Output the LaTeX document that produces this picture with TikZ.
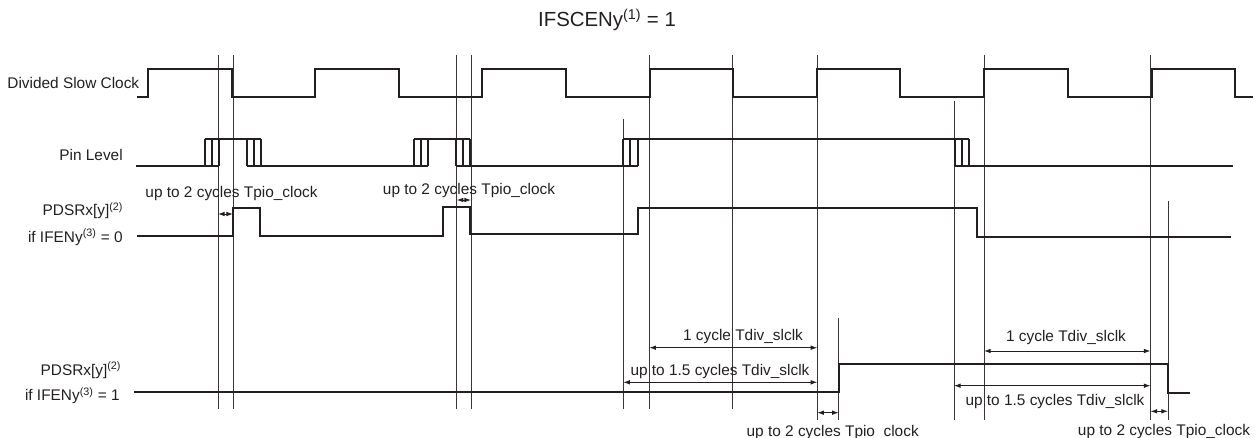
\documentclass[tikz,border=0pt]{standalone}
\usepackage{fontspec}
\setmainfont{Liberation Sans}
\usetikzlibrary{arrows.meta}
\definecolor{ink}{HTML}{231F20}
\tikzset{
  wave/.style={ink, line width=1.5pt, line join=miter},
  pinwave/.style={ink, line width=1.3pt},
  marker/.style={ink!90, line width=0.75pt},
  span/.style={ink, line width=0.7pt, {Latex[length=5pt,width=3.5pt]}-{Latex[length=5pt,width=3.5pt]}},
  lbl/.style={ink, font=\fontsize{11.55}{13}\selectfont, inner sep=0pt, anchor=base},
  sig/.style={lbl, anchor=base east}
}
\begin{document}
\begin{tikzpicture}[x=0.75pt, y=-0.75pt]
      \useasboundingbox (0,0) rectangle (1257,438);
      % vertical markers
      \foreach \x/\top/\bot in {218/55/409, 233/55/409, 456.7/55/409, 471/55/409, 623.3/119/409,
          649.3/55/409, 732.7/55/409, 817.3/55/420, 838.7/318/420, 954/101/420, 984/55/420,
          1150.5/55/420, 1168/201/420}
        \draw[marker] (\x,\top) -- (\x,\bot);
      % clock
      \draw[wave] (137,96.7) -- (147.5,96.7) |- (231.5,68.7) |- (315,96.7) |- (398.5,68.7) |- (482,96.7)
        |- (566,68.7) |- (649.7,96.7) |- (733,68.7) |- (816.7,96.7) |- (900,68.7) |- (984,96.7)
        |- (1068,68.7) |- (1151.7,96.7) |- (1235,68.7) |- (1253,96.7);
      % pin level
      \draw[pinwave] (135.5,166.3) -- (219.3,166.3) (204.7,138.7) -- (261,138.7) (247.3,166.3) -- (428.3,166.3)
        (414.3,138.7) -- (470.3,138.7) (455.7,166.3) -- (637.7,166.3) (623.3,138.7) -- (969,138.7)
        (954.7,166.3) -- (1233,166.3);
      \foreach \x in {204.7,212,219.3,247.3,254,261,414.3,421.3,428.3,455.7,462.7,470.3,623.3,630.3,637.7,954.7,961.7,969}
        \draw[pinwave] (\x,138.7) -- (\x,166.3);
      % pdsr
      \draw[wave] (137,235.7) -- (233,235.7) -- (233,208.3) -- (260.3,208.3) -- (260.3,235.7) -- (442.7,235.7)
        -- (442.7,207.5) -- (470.3,207.5) -- (470.3,233.7) -- (638,233.7) -- (638,208.3) -- (977,208.3)
        -- (977,237) -- (1231,237);
      \draw[wave] (134,391.7) -- (838.7,391.7) -- (838.7,364.5) -- (1168,364.5) -- (1168,392.7) -- (1190,392.7);
      % spans
      \coordinate (p1) at (218,214);
      \coordinate (p2) at (233,214);
      \coordinate (p3) at (456.7,200);
      \coordinate (p4) at (471,200);
      \coordinate (p5) at (649.3,347.7);
      \coordinate (p6) at (817.3,347.7);
      \coordinate (p7) at (623.3,382.3);
      \coordinate (p8) at (817.3,382.3);
      \coordinate (p9) at (817.3,412.7);
      \coordinate (p10) at (838.7,412.7);
      \coordinate (q1) at (984,351);
      \coordinate (q2) at (1150.5,351);
      \coordinate (q3) at (954,385.7);
      \coordinate (q4) at (1150.5,385.7);
      \coordinate (q5) at (1150.5,411.3);
      \coordinate (q6) at (1168,411.3);
      \draw[span] (p1) -- (p2);
      \draw[span] (p3) -- (p4);
      \draw[span] (p5) -- (p6);
      \draw[span] (p7) -- (p8);
      \draw[span] (p9) -- (p10);
      \draw[span] (q1) -- (q2);
      \draw[span] (q3) -- (q4);
      \draw[span] (q5) -- (q6);
      % labels
      \node[lbl, font=\fontsize{15.3}{18}\selectfont] (title) at (607,26.7) {IFSCENy\textsuperscript{(1)} = 1};
      \node[sig] (clk) at (139.5,89) {Divided Slow Clock};
      \node[sig] (pin) at (123,160.7) {Pin Level};
      \node[sig] (pdsra) at (123.5,216) {PDSRx[y]\textsuperscript{(2)}};
      \node[sig] (ifena) at (123,242.3) {if IFENy\textsuperscript{(3)} = 0};
      \node[sig] (pdsrb) at (121.5,375) {PDSRx[y]\textsuperscript{(2)}};
      \node[sig] (ifenb) at (120,401) {if IFENy\textsuperscript{(3)} = 1};
      \node[lbl] (ta) at (231.5,197.3) {up to 2 cycles Tpio\_clock};
      \node[lbl] (tb) at (469,195) {up to 2 cycles Tpio\_clock};
      \node[lbl] (tc) at (743,341) {1 cycle Tdiv\_slclk};
      \node[lbl] (td) at (720,375.3) {up to 1.5 cycles Tdiv\_slclk};
      \node[lbl] (te) at (832.7,436.5) {up to 2 cycles Tpio\_clock};
      \node[lbl] (tf) at (1066,342) {1 cycle Tdiv\_slclk};
      \node[lbl] (tg) at (1055,405.3) {up to 1.5 cycles Tdiv\_slclk};
      \node[lbl] (th) at (1164,435) {up to 2 cycles Tpio\_clock};
    \end{tikzpicture}
\end{document}
